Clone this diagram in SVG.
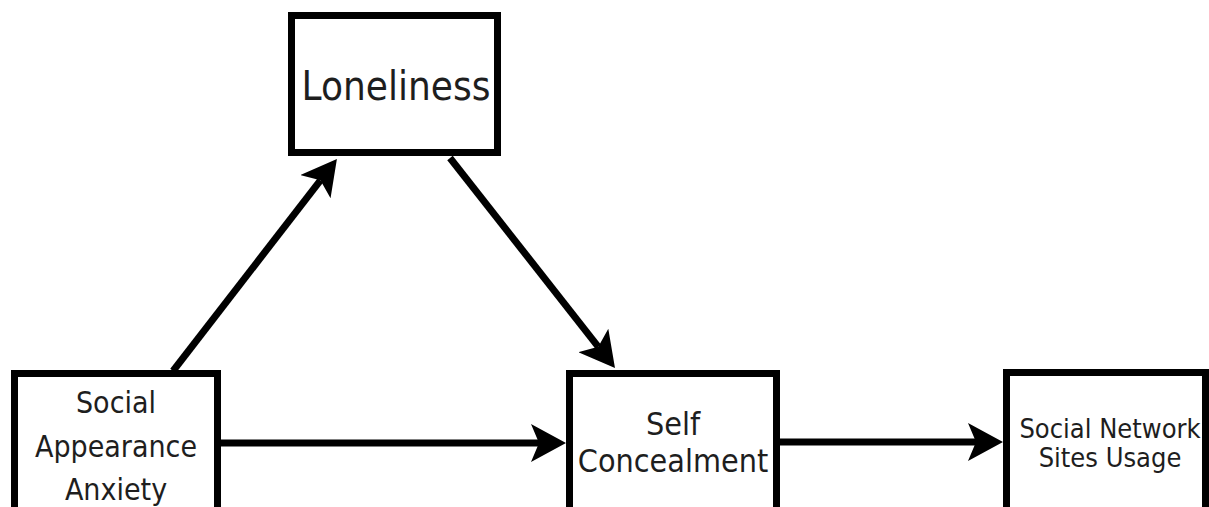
<svg xmlns="http://www.w3.org/2000/svg" width="1209" height="507" viewBox="0 0 1209 507">
  <style>
    .box { fill: #ffffff; stroke: #000000; stroke-width: 7; }
    .lbl { font-family: "DejaVu Sans Condensed", "DejaVu Sans", sans-serif; font-stretch: condensed; fill: #1e1e1e; text-anchor: middle; }
    .conn { fill: none; stroke: #000000; stroke-width: 7; }
  </style>
  <defs>
    <marker id="arrow" viewBox="0 0 35 38" refX="8" refY="19" markerWidth="35" markerHeight="38" markerUnits="userSpaceOnUse" orient="auto">
      <path d="M0,0 L35,19 L0,38 L8,19 Z" fill="#000000"/>
    </marker>
  </defs>
  <rect width="1209" height="507" fill="#ffffff"/>

  <g id="connectors">
    <path class="conn" d="M173,371 L320.4,180.3" marker-end="url(#arrow)"/>
    <path class="conn" d="M450,158 L598.3,346.8" marker-end="url(#arrow)"/>
    <path class="conn" d="M221,443 L539,443" marker-end="url(#arrow)"/>
    <path class="conn" d="M780,442 L976,442" marker-end="url(#arrow)"/>
  </g>

  <g id="loneliness">
    <rect class="box" x="291.5" y="15.5" width="206" height="137"/>
    <text class="lbl" x="396" y="100" font-size="40">Loneliness</text>
  </g>

  <g id="social-appearance-anxiety">
    <rect class="box" x="14.5" y="373.5" width="203" height="150"/>
    <text class="lbl" x="116" y="413" font-size="30">Social</text>
    <text class="lbl" x="116" y="457" font-size="30">Appearance</text>
    <text class="lbl" x="116" y="500" font-size="30">Anxiety</text>
  </g>

  <g id="self-concealment">
    <rect class="box" x="569.5" y="373.5" width="207" height="150"/>
    <text class="lbl" x="673" y="435" font-size="32">Self</text>
    <text class="lbl" x="673" y="472" font-size="32">Concealment</text>
  </g>

  <g id="social-network-sites-usage">
    <rect class="box" x="1006.5" y="372.5" width="199" height="150"/>
    <text class="lbl" x="1110" y="438" font-size="27">Social Network</text>
    <text class="lbl" x="1110" y="467" font-size="27">Sites Usage</text>
  </g>
</svg>
